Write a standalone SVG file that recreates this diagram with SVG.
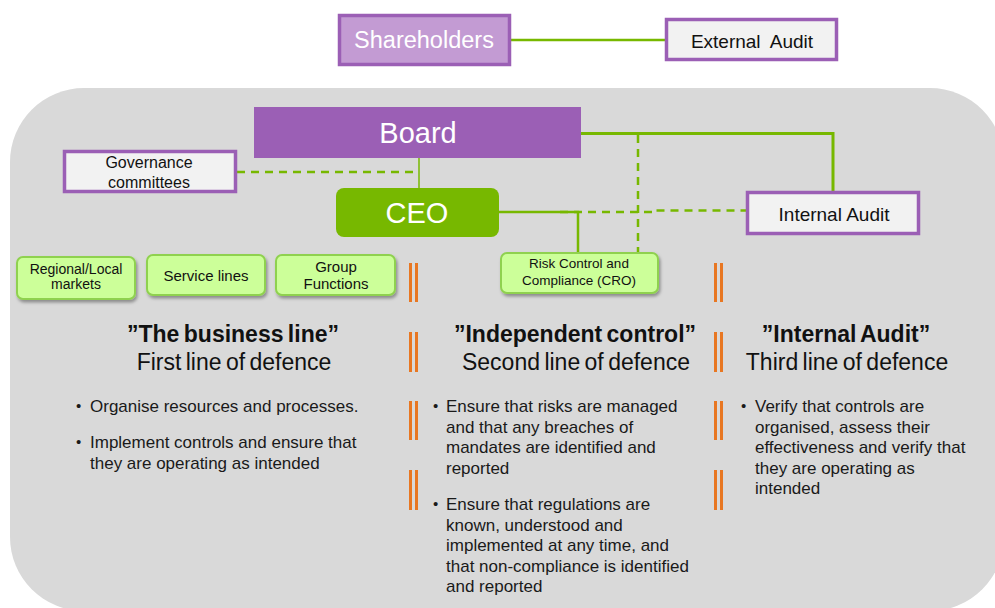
<svg xmlns="http://www.w3.org/2000/svg" width="995" height="608" viewBox="0 0 995 608">
<defs>
<style>
.t{font-family:"Liberation Sans",Arial,sans-serif;}
.pbox{fill:#f2f2f2;stroke:#9b5fb5;stroke-width:3.5;}
.gbox{fill:#ccff99;stroke:#8fd14f;stroke-width:2;filter:url(#sh);}
.ln{fill:none;stroke:#77b800;}
.dash{fill:none;stroke:#77b800;stroke-width:2.5;stroke-dasharray:8 6;}
.bar{stroke:#e87722;stroke-width:3;}
.ttl{font-size:23px;fill:#111;text-anchor:middle;word-spacing:-2px;}
.bl{font-size:17px;fill:#1a1a1a;}
.dot{font-size:15px;fill:#1a1a1a;}
</style>
<filter id="sh" x="-10%" y="-10%" width="125%" height="140%">
<feDropShadow dx="1.5" dy="2.5" stdDeviation="1.5" flood-color="#000" flood-opacity="0.35"/>
</filter>
</defs>

<rect x="10" y="88" width="994" height="523" rx="74" ry="74" fill="#d9d9d9"/>

<g id="connectors">
<line class="ln" x1="511" y1="40" x2="665" y2="40" stroke-width="2.5"/>
<path class="ln" d="M581 133.5 H833 V192" stroke-width="3"/>
<line class="ln" x1="419" y1="158" x2="419" y2="188" stroke-width="1.5"/>
<path class="ln" d="M499 212 H578 V253" stroke-width="2.5"/>
<line class="dash" x1="237" y1="172" x2="415" y2="172"/>
<path class="dash" d="M560 212 H655 V210.5 H746"/>
<line class="dash" x1="638" y1="135" x2="638" y2="253"/>
</g>

<g id="shareholders">
<rect x="339.5" y="15.5" width="170" height="49" fill="#c39bd3" stroke="#9b5fb5" stroke-width="3.5"/>
<text class="t" x="424" y="48" font-size="23.5" fill="#fff" text-anchor="middle">Shareholders</text>
</g>

<g id="external-audit">
<rect class="pbox" x="666.5" y="19.5" width="170" height="40"/>
<text class="t" x="752" y="48" font-size="19" fill="#111" text-anchor="middle" word-spacing="5">External Audit</text>
</g>

<g id="board">
<rect x="254" y="107" width="327" height="51" fill="#9b5fb5"/>
<text class="t" x="418" y="143" font-size="29" fill="#fff" text-anchor="middle">Board</text>
</g>

<g id="governance">
<rect class="pbox" x="64.5" y="151.5" width="171" height="40"/>
<text class="t" x="149" y="168" font-size="16" fill="#111" text-anchor="middle">Governance</text>
<text class="t" x="149" y="188" font-size="16" fill="#111" text-anchor="middle">committees</text>
</g>

<g id="ceo">
<rect x="336" y="188" width="163" height="49" rx="8" fill="#77b800"/>
<text class="t" x="417" y="223" font-size="29" fill="#fff" text-anchor="middle">CEO</text>
</g>

<g id="internal-audit">
<rect class="pbox" x="747.5" y="192.5" width="171" height="41"/>
<text class="t" x="834" y="221" font-size="19" fill="#111" text-anchor="middle">Internal Audit</text>
</g>

<g id="risk-control">
<rect class="gbox" x="501" y="253" width="157" height="40" rx="6"/>
<text class="t" x="579" y="268" font-size="13.5" fill="#111" text-anchor="middle">Risk Control and</text>
<text class="t" x="579" y="285" font-size="13.5" fill="#111" text-anchor="middle">Compliance (CRO)</text>
</g>

<g id="regional-local-markets">
<rect class="gbox" x="17" y="257" width="118" height="42" rx="6"/>
<text class="t" x="76" y="274" font-size="14" fill="#111" text-anchor="middle">Regional/Local</text>
<text class="t" x="76" y="289" font-size="14" fill="#111" text-anchor="middle">markets</text>
</g>

<g id="service-lines">
<rect class="gbox" x="147" y="255" width="118" height="40" rx="6"/>
<text class="t" x="206" y="281" font-size="15" fill="#111" text-anchor="middle">Service lines</text>
</g>

<g id="group-functions">
<rect class="gbox" x="276" y="255" width="119" height="40" rx="6"/>
<text class="t" x="336" y="272" font-size="15" fill="#111" text-anchor="middle">Group</text>
<text class="t" x="336" y="289" font-size="15" fill="#111" text-anchor="middle">Functions</text>
</g>

<g id="separators">
<line class="bar" x1="410.5" y1="263" x2="410.5" y2="302"/><line class="bar" x1="416.5" y1="263" x2="416.5" y2="302"/>
<line class="bar" x1="410.5" y1="332" x2="410.5" y2="372"/><line class="bar" x1="416.5" y1="332" x2="416.5" y2="372"/>
<line class="bar" x1="410.5" y1="401" x2="410.5" y2="440"/><line class="bar" x1="416.5" y1="401" x2="416.5" y2="440"/>
<line class="bar" x1="410.5" y1="470" x2="410.5" y2="510"/><line class="bar" x1="416.5" y1="470" x2="416.5" y2="510"/>
<line class="bar" x1="715.5" y1="263" x2="715.5" y2="302"/><line class="bar" x1="721.5" y1="263" x2="721.5" y2="302"/>
<line class="bar" x1="715.5" y1="332" x2="715.5" y2="372"/><line class="bar" x1="721.5" y1="332" x2="721.5" y2="372"/>
<line class="bar" x1="715.5" y1="401" x2="715.5" y2="440"/><line class="bar" x1="721.5" y1="401" x2="721.5" y2="440"/>
<line class="bar" x1="715.5" y1="470" x2="715.5" y2="510"/><line class="bar" x1="721.5" y1="470" x2="721.5" y2="510"/>
</g>

<g id="first-line">
<text class="t ttl" x="233" y="342" font-weight="bold">”The business line”</text>
<text class="t ttl" x="234" y="370">First line of defence</text>
<text class="t dot" x="76" y="411">•</text>
<text class="t bl" x="90" y="412">Organise resources and processes.</text>
<text class="t dot" x="76" y="447">•</text>
<text class="t bl" x="90" y="448">Implement controls and ensure that</text>
<text class="t bl" x="90" y="468.5">they are operating as intended</text>
</g>

<g id="second-line">
<text class="t ttl" x="575" y="342" font-weight="bold">”Independent control”</text>
<text class="t ttl" x="576" y="370">Second line of defence</text>
<text class="t dot" x="433" y="411">•</text>
<text class="t bl" x="446" y="412">Ensure that risks are managed</text>
<text class="t bl" x="446" y="432.5">and that any breaches of</text>
<text class="t bl" x="446" y="453">mandates are identified and</text>
<text class="t bl" x="446" y="473.5">reported</text>
<text class="t dot" x="433" y="509">•</text>
<text class="t bl" x="446" y="510">Ensure that regulations are</text>
<text class="t bl" x="446" y="530.5">known, understood and</text>
<text class="t bl" x="446" y="551">implemented at any time, and</text>
<text class="t bl" x="446" y="571.5">that non-compliance is identified</text>
<text class="t bl" x="446" y="592">and reported</text>
</g>

<g id="third-line">
<text class="t ttl" x="846" y="342" font-weight="bold">”Internal Audit”</text>
<text class="t ttl" x="847" y="370">Third line of defence</text>
<text class="t dot" x="741" y="411">•</text>
<text class="t bl" x="755" y="412">Verify that controls are</text>
<text class="t bl" x="755" y="432.5">organised, assess their</text>
<text class="t bl" x="755" y="453">effectiveness and verify that</text>
<text class="t bl" x="755" y="473.5">they are operating as</text>
<text class="t bl" x="755" y="494">intended</text>
</g>
</svg>
